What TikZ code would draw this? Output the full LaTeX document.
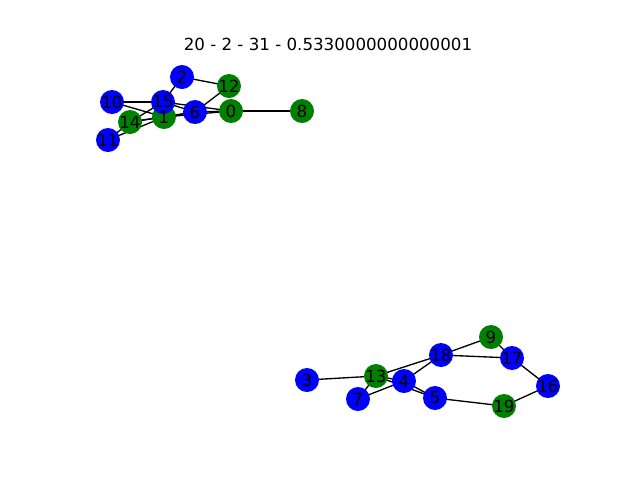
\documentclass[tikz,border=0pt]{standalone}
\usepackage{fontspec}
\setmainfont{DejaVu Sans}
\pgfdeclarelayer{edges}
\pgfdeclarelayer{labels}
\pgfsetlayers{edges,main,labels}
\begin{document}
\begin{tikzpicture}[x=0.75pt,y=-0.75pt,
  vx/.style={circle,minimum size=18pt,inner sep=0pt},
  vb/.style={vx,fill={rgb,255:red,0;green,0;blue,255}},
  vg/.style={vx,fill={rgb,255:red,0;green,128;blue,0}},
  lbl/.style={font=\fontsize{12.5}{14}\selectfont,inner sep=0pt},
  ed/.style={draw=black,line width=1pt}]
\useasboundingbox (0,0) rectangle (640,480);
\node[lbl] (title) at (328,44) {20 - 2 - 31 - 0.5330000000000001};
\foreach \n/\s/\p in {0/vg/{231,111},1/vg/{164,117},2/vb/{182,77},3/vb/{307,380},4/vb/{404,381},5/vb/{435,398},6/vb/{195,112},7/vb/{358,399},8/vg/{302,111},9/vg/{491,337},
  10/vb/{112,102},11/vb/{108,140},12/vg/{229,86},13/vg/{376,376},14/vg/{130,122},15/vb/{163,102},16/vb/{548,386},17/vb/{512,358},18/vb/{441,355},19/vg/{504,406}}
  \node[\s] (n\n) at (\p) {};
\begin{pgfonlayer}{edges}
\foreach \a/\b in {n10/n15,n10/n1,n11/n14,n11/n1,n14/n15,n14/n1,n14/n6,n2/n15,n2/n12,n12/n6,n15/n0,n15/n6,n1/n6,n1/n0,n6/n0,n0/n8,
  n3/n13,n13/n18,n18/n9,n9/n17,n18/n17,n17/n16,n16/n19,n19/n5,n4/n5,n13/n5,n13/n4,n7/n13,n7/n4,n4/n18}
  \draw[ed] (\a.center) -- (\b.center);
\end{pgfonlayer}
\begin{pgfonlayer}{labels}
\foreach \n in {0,...,19}
  \node[lbl] (t\n) at (n\n.center) {\n};
\end{pgfonlayer}
\end{tikzpicture}
\end{document}
